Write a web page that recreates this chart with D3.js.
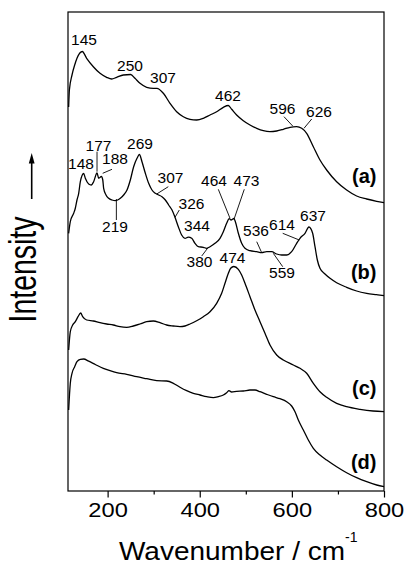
<!DOCTYPE html>
<html>
<head>
<meta charset="utf-8">
<script src="https://cdn.jsdelivr.net/npm/d3@7/dist/d3.min.js"></script>
<style>
  html, body { margin: 0; padding: 0; background: #fff; }
  svg { display: block; }
  text { font-family: "Liberation Sans", Arial, sans-serif; fill: #000; }
</style>
</head>
<body>
<svg id="chart" width="404" height="566"></svg>
<script>
// Raman spectra (a)-(d), stacked with an arbitrary intensity offset.
// Each point: [wavenumber / cm-1, relative intensity]
const spectrumA = [
  [115.4,384],[117,401],[122.7,416],[128.5,426],[133.5,432.7],[145,439.5],
  [154.5,432.7],[169,424.3],[183.5,417.7],[197.9,413.7],[208.8,412],[219.6,413.7],
  [234.1,416],[250,416.5],[259.4,412.7],[270.3,407.7],[284.8,403.7],[299.2,402.7],
  [307,402.7],[321,397.7],[335.4,387.7],[349.9,379.3],[364.4,374.3],[378.8,371.7],
  [393.3,371],[407.8,372.7],[422.3,376],[436.7,379.3],[451.2,383.7],[462,385.5],
  [469.3,381.7],[480.1,376],[494.6,370.3],[509.1,366],[523.6,362.7],[538,360.3],
  [552.5,359.3],[567,360],[581.4,361.7],[596,363.7],[610.4,364.3],[621.3,362.7],
  [632.1,357.7],[646.6,344.3],[661,331],[675.5,321],[697.2,309.3],[718.9,301],
  [740.6,295],[762.4,292],[784.1,289.7],[800,288.3]
];

const spectrumB = [
  [115.4,257.7],[119,269.3],[126.3,277.7],[130,283],[133.5,291],[137.2,297.7],
  [140.8,309.3],[148,317.5],[151.6,312.7],[158.9,307],[164.6,306],[169.7,309.3],
  [177,318],[180.6,312.7],[186.5,314.5],[189.5,311],[191.4,302.7],[196.5,296],
  [202.3,292.7],[209.5,291],[216.7,290.3],[221.8,291],[227.6,292.7],[234.8,296],
  [242.1,301],[249.3,311],[256.5,324.3],[263.8,332.7],[269,336.5],[274.6,329.3],
  [281.9,317.7],[289.1,307.7],[296.3,301],[303.6,297.7],[310.8,296],[318,294.3],
  [325.3,291],[332.5,286],[339.8,281],[346.3,273.7],[353.5,264.3],[360.7,256],
  [368,252.7],[375.2,253.9],[382.5,252.7],[389.7,247.7],[396.9,244.3],[407.8,243.7],
  [415,242.7],[422.3,244.3],[433.1,247.7],[444,252.7],[451.2,259.3],[458.4,267.7],
  [464,272.3],[468,271],[470.5,271.5],[474,272.5],[477.5,269],[483.8,257.7],
  [491,247.7],[498.2,242.7],[509.1,240.3],[523.6,239.3],[534.4,238.3],[545.3,239.3],
  [556.1,239.3],[567,237],[577.8,236],[588.7,236],[599.5,239.3],[610.4,247.7],
  [617.6,252.7],[628.5,257.7],[637,264],[645.1,257.7],[650.2,244.3],[655.3,231],
  [661,222.7],[671.9,217],[682.8,212.7],[697.2,208.3],[718.9,203.7],[740.6,200],
  [762.4,197.7],[784.1,196.3],[800,195.3]
];

const spectrumC = [
  [115.4,141],[119,159.3],[124.1,166],[129.9,169.3],[135.7,174.3],[141.5,178],
  [145.8,174.3],[154.5,171],[169,170],[183.5,168.3],[197.9,167],[212.4,166],
  [226.9,164.3],[241.4,163.7],[255.8,165],[270.3,167],[284.8,169.3],[299.2,170],
  [313.7,168.3],[328.2,166],[342.7,165],[357.1,164.3],[368,165],[378.8,167],
  [393.3,170.3],[407.8,174.3],[422.3,179.3],[436.7,187.7],[447.6,197.7],[454.8,207.7],
  [462.1,217.7],[467.1,222.7],[474,224.5],[483.8,221.7],[491,216],[498.2,207.7],
  [509.1,194.3],[519.9,181],[530.8,169.3],[541.6,157.7],[552.5,146],[567,136],
  [581.4,131],[603.2,126],[617.6,122.7],[632.1,117.7],[646.6,107.7],[661,99.3],
  [675.5,93.7],[697.2,87.7],[718.9,84.3],[747.9,81.7],[776.1,80],[800,79.3]
];

const spectrumD = [
  [115.4,81],[119,107.7],[122.7,117.7],[128.5,124.3],[133.5,129.3],[140.8,131.7],
  [148,132],[158.9,129.8],[173.3,126.5],[190.7,122.7],[205.2,120.3],[219.6,118.3],
  [241.4,116.7],[263.1,114.3],[284.8,112.3],[306.5,110.3],[328.2,110],[342.7,107.7],
  [357.1,103.7],[371.6,100.3],[386.1,97.7],[400.5,96],[415,94.3],[429.5,93.3],
  [440.3,94.3],[451.2,96],[458.4,98.3],[463.5,100.3],[469.3,99],[480.1,99.7],
  [494.6,100],[509.1,101],[520,101],[530.8,99.3],[545.3,96.7],[559.7,94.3],
  [574.2,92.3],[588.7,89.3],[599.5,85],[606.8,79.3],[614,71],[624.9,61],
  [635.7,51],[646.6,42.7],[661,36],[675.5,31],[697.2,24.3],[718.9,18.3],
  [740.6,13.3],[762.4,9.3],[784.1,6],[800,4.3]
];

const spectra = [spectrumA, spectrumB, spectrumC, spectrumD];
const spectrumNames = ["(a)", "(b)", "(c)", "(d)"];
const nameIntensity = [308.5, 212, 96, 22];

// Band labels: text, anchor [wavenumber, intensity], optional leader line
const bandLabels = [
  { t: "145", at: [148.7, 446] },
  { t: "250", at: [248.6, 420.3] },
  { t: "307", at: [320.2, 408.3] },
  { t: "462", at: [461.3, 390] },
  { t: "596", at: [579.7, 377], leader: [[582.9, 374.3], [601.8, 365]] },
  { t: "626", at: [658.9, 374], leader: [[643.1, 372], [626.3, 362.7]] },
  { t: "148", at: [142.2, 321.7] },
  { t: "177", at: [180.2, 340.3], leader: [[177, 339.3], [177, 319.3]] },
  { t: "188", at: [216, 326.7], leader: [[209.5, 321.7], [189.3, 317.7]] },
  { t: "269", at: [270.3, 342] },
  { t: "219", at: [216, 259.3], leader: [[219, 292], [219, 271]] },
  { t: "307", at: [336.5, 307.7], leader: [[331.7, 304.3], [306.6, 297]] },
  { t: "326", at: [382.1, 282], leader: [[355.6, 281], [346.3, 273.7]] },
  { t: "344", at: [394, 260.3] },
  { t: "380", at: [399.5, 224.3], leader: [[404.3, 235], [418.6, 243.7]] },
  { t: "464", at: [430.9, 305], leader: [[440.3, 301.7], [465.7, 272.7]] },
  { t: "473", at: [501.5, 305], leader: [[496.7, 301.7], [474.4, 271.7]] },
  { t: "536", at: [522.1, 255], leader: [[523.7, 249.3], [534.5, 238.3]] },
  { t: "614", at: [578.6, 261], leader: [[580.1, 257.7], [616.1, 251]] },
  { t: "637", at: [645.9, 270.3] },
  { t: "559", at: [578.6, 212.7], leader: [[559.7, 237.7], [580.1, 224.3]] },
  { t: "474", at: [471.1, 228] }
];

const majorTicks = [200, 400, 600, 800];
const minorTicks = [300, 500, 700];

const svg = d3.select("#chart");
const plotLeft = 68, plotRight = 384, plotTop = 12, plotBottom = 491;

const x = d3.scaleLinear().domain([114, 800]).range([plotLeft, plotRight]);
const y = d3.scaleLinear().domain([0, 479]).range([plotBottom, plotTop]);

// spectra
const line = d3.line()
  .x(d => x(d[0]))
  .y(d => y(d[1]))
  .curve(d3.curveMonotoneX);

svg.append("g")
  .selectAll("path")
  .data(spectra)
  .join("path")
  .attr("d", line)
  .attr("fill", "none")
  .attr("stroke", "#000")
  .attr("stroke-width", 1.3)
  .attr("stroke-linejoin", "round");

// plot frame
svg.append("rect")
  .attr("x", plotLeft).attr("y", plotTop)
  .attr("width", plotRight - plotLeft).attr("height", plotBottom - plotTop)
  .attr("fill", "none").attr("stroke", "#000").attr("stroke-width", 1.2);

// x axis: labelled major ticks and unlabelled minor ticks
const xAxis = svg.append("g")
  .attr("transform", `translate(0,${plotBottom})`)
  .call(d3.axisBottom(x).tickValues(majorTicks).tickSize(6.5).tickFormat(d3.format("d")));
xAxis.select(".domain").remove();
xAxis.selectAll(".tick line").attr("stroke", "#000").attr("stroke-width", 1.2);
xAxis.selectAll(".tick text")
  .attr("y", 25.7).attr("dy", null)
  .attr("font-size", 19.5)
  .attr("textLength", 39.5)
  .attr("lengthAdjust", "spacingAndGlyphs")
  .style("font-family", "'Liberation Sans', Arial, sans-serif")
  .attr("fill", "#000");

const xMinor = svg.append("g")
  .attr("transform", `translate(0,${plotBottom})`)
  .call(d3.axisBottom(x).tickValues(minorTicks).tickSize(3.5).tickFormat(""));
xMinor.select(".domain").remove();
xMinor.selectAll(".tick line").attr("stroke", "#000").attr("stroke-width", 1.2);

// x axis title
const xTitle = svg.append("g");
xTitle.append("text")
  .attr("x", 119).attr("y", 560)
  .attr("font-size", 25)
  .attr("textLength", 226)
  .attr("lengthAdjust", "spacingAndGlyphs")
  .text("Wavenumber / cm");
xTitle.append("text")
  .attr("x", 345).attr("y", 542)
  .attr("font-size", 14)
  .text("-1");

// y axis title with upward arrow
svg.append("text")
  .attr("transform", "translate(36,269.5) rotate(-90)")
  .attr("text-anchor", "middle")
  .attr("font-size", 38)
  .attr("textLength", 106)
  .attr("lengthAdjust", "spacingAndGlyphs")
  .text("Intensity");

svg.append("line")
  .attr("x1", 31.7).attr("x2", 31.7)
  .attr("y1", 199).attr("y2", 160)
  .attr("stroke", "#000").attr("stroke-width", 1.6);
svg.append("path")
  .attr("d", "M31.7,153 L28.8,163.5 L34.6,163.5 Z")
  .attr("fill", "#000");

// spectrum names
svg.append("g")
  .selectAll("text")
  .data(spectrumNames)
  .join("text")
  .attr("x", 376.5)
  .attr("y", (d, i) => y(nameIntensity[i]))
  .attr("text-anchor", "end")
  .attr("font-size", 20)
  .attr("font-weight", "bold")
  .text(d => d);

// band annotations
const ann = svg.append("g");
ann.selectAll("line")
  .data(bandLabels.filter(d => d.leader))
  .join("line")
  .attr("x1", d => x(d.leader[0][0])).attr("y1", d => y(d.leader[0][1]))
  .attr("x2", d => x(d.leader[1][0])).attr("y2", d => y(d.leader[1][1]))
  .attr("stroke", "#000").attr("stroke-width", 0.9);
ann.selectAll("text")
  .data(bandLabels)
  .join("text")
  .attr("x", d => x(d.at[0]))
  .attr("y", d => y(d.at[1]))
  .attr("text-anchor", "middle")
  .attr("font-size", 15.5)
  .text(d => d.t);
</script>
</body>
</html>
